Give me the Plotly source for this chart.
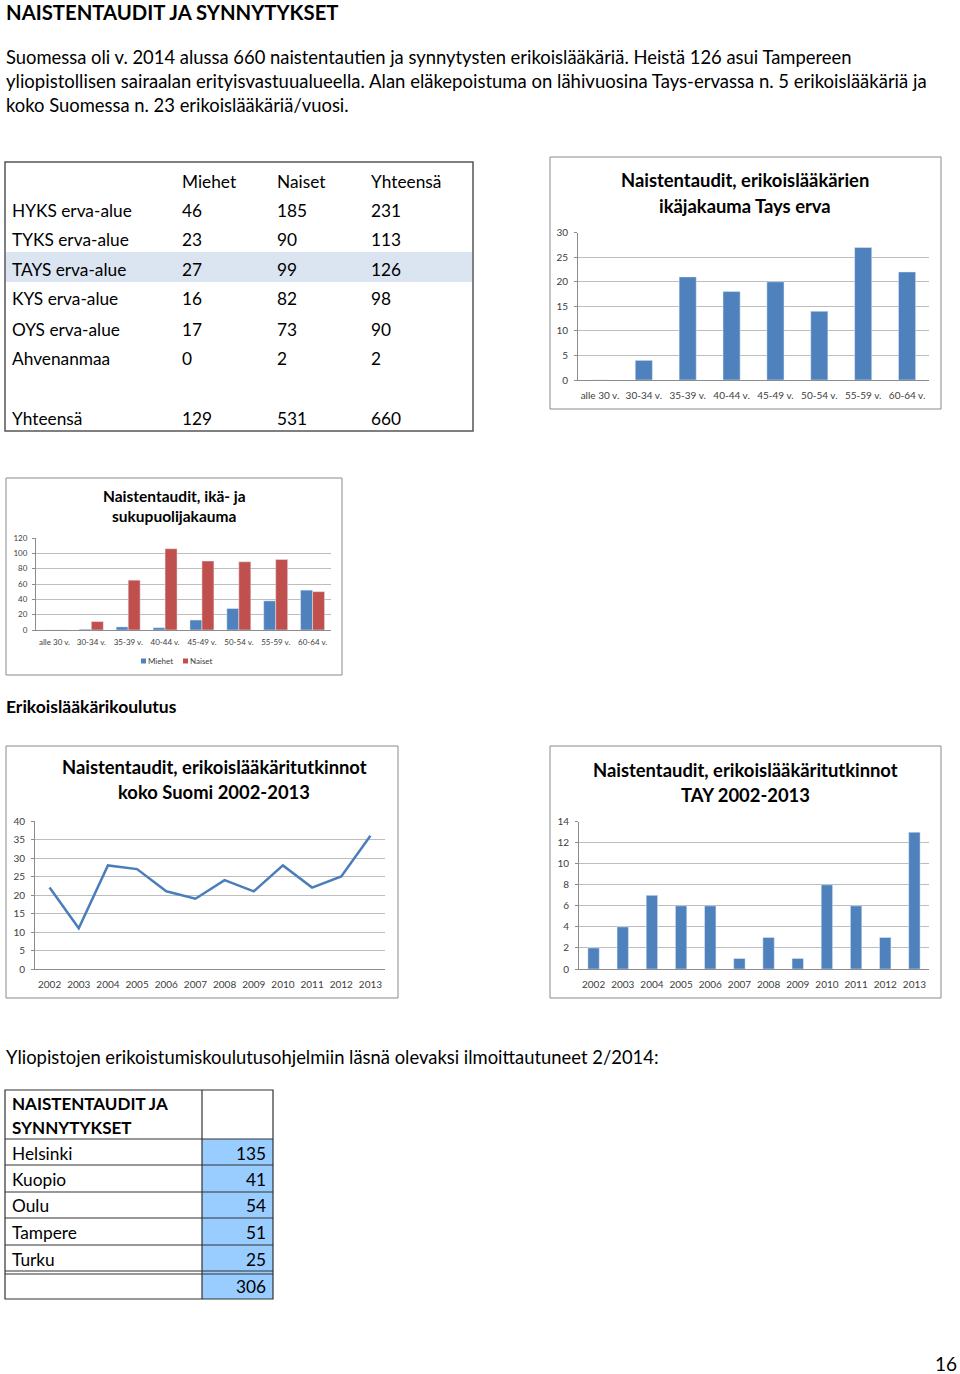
import plotly.graph_objects as go

W, H = 960, 1374

# ---------------- data ----------------
age_groups = ["alle 30 v.", "30-34 v.", "35-39 v.", "40-44 v.", "45-49 v.", "50-54 v.", "55-59 v.", "60-64 v."]
tays_age_counts = [0, 4, 21, 18, 20, 14, 27, 22]
men_by_age = [0, 1, 4, 3, 13, 28, 38, 52]
women_by_age = [0, 11, 65, 106, 90, 89, 92, 50]
years = ["2002", "2003", "2004", "2005", "2006", "2007", "2008", "2009", "2010", "2011", "2012", "2013"]
degrees_finland = [22, 11, 28, 27, 21, 19, 24, 21, 28, 22, 25, 36]
degrees_tay = [2, 4, 7, 6, 6, 1, 3, 1, 8, 6, 3, 13]

table_header = ["", "Miehet", "Naiset", "Yhteensä"]
regions = ["HYKS erva-alue", "TYKS erva-alue", "TAYS erva-alue", "KYS erva-alue", "OYS erva-alue", "Ahvenanmaa", "Yhteensä"]
region_men = [46, 23, 27, 16, 17, 0, 129]
region_women = [185, 90, 99, 82, 73, 2, 531]
region_total = [231, 113, 126, 98, 90, 2, 660]

universities = ["Helsinki", "Kuopio", "Oulu", "Tampere", "Turku", ""]
university_counts = [135, 41, 54, 51, 25, 306]

BLUE = "#4F81BD"
RED = "#C0504D"
LINE = "#4A7EBB"
GRID = "#BDBDBD"
TICK = "#404040"
FONT = "Lato, 'Open Sans', sans-serif"
TFONT = "Lato, sans-serif"


def X(px):
    return px / W


def Y(py):
    return 1 - py / H


fig = go.Figure()
annotations = []
shapes = []


def text(x, y, s, size=17, bold=False, xanchor="left", color="#000", family=FONT):
    annotations.append(dict(
        x=X(x), y=Y(y), xref="paper", yref="paper", text=f"<b>{s}</b>" if bold else s,
        showarrow=False, xanchor=xanchor, yanchor="middle", borderpad=0,
        font=dict(size=size, color=color, family=family)))


def rect(x0, y0, x1, y1, line="#868686", width=1, fill=None, layer="above"):
    shapes.append(dict(type="rect", xref="paper", yref="paper",
                       x0=X(x0), x1=X(x1), y0=Y(y1), y1=Y(y0),
                       line=dict(color=line, width=width),
                       fillcolor=fill if fill else "rgba(0,0,0,0)", layer=layer))


def hline(x0, x1, y, color="#000", width=1):
    shapes.append(dict(type="line", xref="paper", yref="paper",
                       x0=X(x0), x1=X(x1), y0=Y(y), y1=Y(y),
                       line=dict(color=color, width=width)))


def vline(x, y0, y1, color="#000", width=1):
    shapes.append(dict(type="line", xref="paper", yref="paper",
                       x0=X(x), x1=X(x), y0=Y(y0), y1=Y(y1),
                       line=dict(color=color, width=width)))


# ---------------- page text ----------------
text(5, 12, "NAISTENTAUDIT JA SYNNYTYKSET", size=20.3, bold=True)
text(5, 57, "Suomessa oli v. 2014 alussa 660 naistentautien ja synnytysten erikoislääkäriä. Heistä 126 asui Tampereen", size=18.4)
text(5, 81, "yliopistollisen sairaalan erityisvastuualueella. Alan eläkepoistuma on lähivuosina Tays-ervassa n. 5 erikoislääkäriä ja", size=18.5)
text(5, 105, "koko Suomessa n. 23 erikoislääkäriä/vuosi.", size=18.4)
text(5, 706, "Erikoislääkärikoulutus", size=17.5, bold=True)
text(5, 1057, "Yliopistojen erikoistumiskoulutusohjelmiin läsnä olevaksi ilmoittautuneet 2/2014:", size=18.4)
text(958, 1363, "16", size=19, xanchor="right")

# ---------------- table 1 ----------------
rect(6, 252, 472, 282, line="rgba(0,0,0,0)", width=0, fill="#DBE5F1", layer="below")
rect(5, 162, 473, 431, line="#555555", width=1.5)
col_x = [11, 181, 276, 370]
for i, h in enumerate(table_header):
    if h:
        text(col_x[i], 181, h, size=17.3)
row_y = [210, 240, 269, 299, 329, 358, 418]
for r, ry in enumerate(row_y):
    text(col_x[0], ry, regions[r], size=17.3)
    text(col_x[1], ry, str(region_men[r]), size=17.3)
    text(col_x[2], ry, str(region_women[r]), size=17.3)
    text(col_x[3], ry, str(region_total[r]), size=17.3)

# ---------------- table 2 ----------------
rect(202, 1139, 273, 1299, line="rgba(0,0,0,0)", width=0, fill="#99CCFF", layer="below")
rect(5, 1090, 273, 1299, line="#333333", width=1.2)
vline(202, 1090, 1299, color="#333333", width=1.2)
for yy in [1139, 1165, 1192, 1218, 1245]:
    hline(5, 273, yy, color="#333333", width=1.2)
hline(5, 273, 1271, color="#333333", width=1.2)
hline(5, 273, 1274, color="#333333", width=1.2)
text(11, 1103, "NAISTENTAUDIT JA", bold=True)
text(11, 1127, "SYNNYTYKSET", bold=True)
uni_y = [1153, 1179, 1205, 1232, 1259, 1286]
for i, uy in enumerate(uni_y):
    if universities[i]:
        text(11, uy, universities[i], size=17.3)
    text(267, uy, str(university_counts[i]), xanchor="right", size=17.3)

# ---------------- chart frames & titles ----------------
rect(550, 157, 941, 409, line="#8A8A8A")
rect(6, 478, 342, 675, line="#8A8A8A")
rect(6, 746, 398, 998, line="#8A8A8A")
rect(550, 746, 941, 998, line="#8A8A8A")

text(745, 180, "Naistentaudit, erikoislääkärien", size=18.4, bold=True, xanchor="center", family=TFONT)
text(745, 206, "ikäjakauma Tays erva", size=18.4, bold=True, xanchor="center", family=TFONT)
text(174, 496, "Naistentaudit, ikä- ja", size=15.5, bold=True, xanchor="center", family=TFONT)
text(174, 516, "sukupuolijakauma", size=15.5, bold=True, xanchor="center", family=TFONT)
text(214, 767, "Naistentaudit, erikoislääkäritutkinnot", size=18.4, bold=True, xanchor="center", family=TFONT)
text(214, 792, "koko Suomi 2002-2013", size=18.4, bold=True, xanchor="center", family=TFONT)
text(745, 770, "Naistentaudit, erikoislääkäritutkinnot", size=18.4, bold=True, xanchor="center", family=TFONT)
text(745, 795, "TAY 2002-2013", size=18.4, bold=True, xanchor="center", family=TFONT)

# manual legend for the gender chart
rect(141, 658.5, 146, 663.5, line="rgba(0,0,0,0)", width=0, fill=BLUE)
text(147, 661, "Miehet", size=8, color=TICK)
rect(183, 658.5, 188, 663.5, line="rgba(0,0,0,0)", width=0, fill=RED)
text(189, 661, "Naiset", size=8, color=TICK)

# ---------------- charts ----------------
fig.add_trace(go.Bar(x=age_groups, y=tays_age_counts, marker_color=BLUE, width=0.39,
                     xaxis="x", yaxis="y", showlegend=False))
fig.add_trace(go.Bar(x=age_groups, y=men_by_age, name="Miehet", marker_color=BLUE,
                     xaxis="x2", yaxis="y2", showlegend=False))
fig.add_trace(go.Bar(x=age_groups, y=women_by_age, name="Naiset", marker_color=RED,
                     xaxis="x2", yaxis="y2", showlegend=False))
fig.add_trace(go.Scatter(x=years, y=degrees_finland, mode="lines", line=dict(color=LINE, width=2.5),
                         xaxis="x3", yaxis="y3", showlegend=False))
fig.add_trace(go.Bar(x=years, y=degrees_tay, marker_color=BLUE, width=0.39,
                     xaxis="x4", yaxis="y4", showlegend=False))


def axes(n, left, right, top, bottom, ymax, dtick, ncat, tsize, xstand, ystand):
    sx = "" if n == 1 else str(n)
    xa = dict(domain=[X(left), X(right)], anchor="y" + sx, type="category",
              range=[-0.5, ncat - 0.5], showgrid=False, showline=True, linecolor="#8C8C8C",
              linewidth=1, ticks="", tickfont=dict(size=tsize, color=TICK, family=FONT),
              ticklabelstandoff=xstand, fixedrange=True, automargin=False)
    ya = dict(domain=[Y(bottom), Y(top)], anchor="x" + sx, range=[0, ymax], dtick=dtick,
              showgrid=True, gridcolor=GRID, gridwidth=1, showline=True, linecolor="#8C8C8C",
              linewidth=1, ticks="outside", ticklen=3, tickcolor="#8C8C8C",
              tickfont=dict(size=tsize, color=TICK, family=FONT), zeroline=False,
              ticklabelstandoff=ystand, fixedrange=True, automargin=False)
    return {"xaxis" + sx: xa, "yaxis" + sx: ya}


layout_axes = {}
layout_axes.update(axes(1, 578, 929, 232.7, 380, 30, 5, 8, 10, 6, 4))
layout_axes.update(axes(2, 36, 331, 538, 630, 120, 20, 8, 8, 4, 3))
layout_axes.update(axes(3, 35, 385, 821, 969, 40, 5, 12, 10, 6, 4))
layout_axes.update(axes(4, 579, 929, 821.7, 969, 14, 2, 12, 10, 6, 4))

fig.update_layout(
    width=W, height=H, autosize=False,
    margin=dict(l=0, r=0, t=0, b=0, pad=0, autoexpand=False),
    paper_bgcolor="white", plot_bgcolor="white",
    barmode="group", bargap=0.35, bargroupgap=0,
    annotations=annotations, shapes=shapes, showlegend=False,
    font=dict(family=FONT),
    **layout_axes,
)

post = (
    "document.documentElement.style.margin='0';"
    "document.documentElement.style.padding='0';"
    "document.documentElement.style.overflow='hidden';"
    "document.body.style.margin='0';"
    "document.body.style.padding='0';"
    "document.body.style.overflow='hidden';"
    "var d=document.getElementById('{plot_id}');"
    "d.style.position='absolute';d.style.top='0px';d.style.left='0px';"
)
fig.write_html("out.html", config={"displayModeBar": False}, post_script=post)
